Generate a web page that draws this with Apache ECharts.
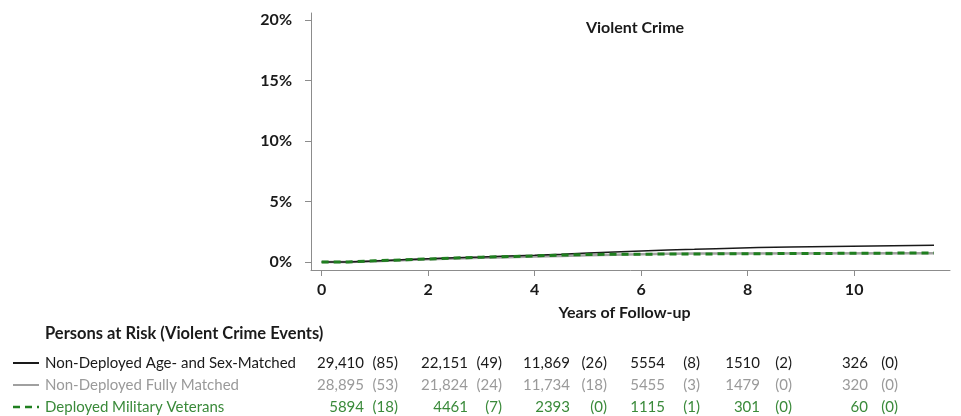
<!DOCTYPE html>
<html>
<head>
<meta charset="utf-8">
<script src="https://cdn.jsdelivr.net/npm/echarts@6/dist/echarts.min.js"></script>
<style>
  html, body { margin: 0; padding: 0; background: #fff; }
  #chart { width: 961px; height: 416px; }
</style>
</head>
<body>
<div id="chart"></div>
<script>
// follow-up time (years) and cumulative incidence (%)
const ageSexYears = [0, 0.5, 1, 1.5, 2, 2.5, 3, 3.5, 4, 4.5, 5, 5.5, 6, 6.5, 7, 7.4, 8.2, 8.8, 11.5];
const ageSexMatched = [0, 0.08, 0.18, 0.27, 0.35, 0.42, 0.5, 0.57, 0.65, 0.74, 0.83, 0.92, 1.0, 1.05, 1.1, 1.2, 1.25, 1.38, 1.38];
const fullyYears = [0, 0.5, 1, 1.5, 2, 2.5, 3, 3.5, 4, 4.5, 5, 5.5, 6, 6.5, 7, 11.5];
const fullyMatched = [0, 0.07, 0.15, 0.22, 0.3, 0.35, 0.4, 0.45, 0.5, 0.55, 0.6, 0.65, 0.68, 0.7, 0.72, 0.72];
const deployedYears = [0, 0.5, 1, 1.5, 2, 2.5, 3, 3.5, 4, 4.5, 5, 5.5, 6.1, 11.5];
const deployed = [0, 0.1, 0.18, 0.25, 0.33, 0.4, 0.45, 0.5, 0.58, 0.62, 0.65, 0.65, 0.75, 0.75];

const xTicks = [0, 2, 4, 6, 8, 10];
const yTicks = [0, 5, 10, 15, 20];

// persons at risk table
const groupNames = ["Non-Deployed Age- and Sex-Matched", "Non-Deployed Fully Matched", "Deployed Military Veterans"];
const atRisk = [
  ["29,410", "22,151", "11,869", "5554", "1510", "326"],
  ["28,895", "21,824", "11,734", "5455", "1479", "320"],
  ["5894", "4461", "2393", "1115", "301", "60"]
];
const events = [
  ["(85)", "(49)", "(26)", "(8)", "(2)", "(0)"],
  ["(53)", "(24)", "(18)", "(3)", "(0)", "(0)"],
  ["(18)", "(7)", "(0)", "(1)", "(0)", "(0)"]
];

const FONT = "Lato";
const colors = ["#1a1a1a", "#a0a0a0", "#1f7f1f"];
const textColors = ["#1a1a1a", "#9a9a9a", "#3a8a3a"];

const chart = echarts.init(document.getElementById("chart"));

const pair = (xs, ys) => xs.map((x, i) => [x, ys[i]]);

// table layout
const colEnd = [398, 502, 607, 700, 792, 898];
const countRight = [364, 468, 570, 665, 760, 868];
const rowY = [363, 385, 407];

const graphics = [
  {
    type: "text", left: 45, top: 325,
    style: { text: "Persons at Risk (Violent Crime Events)", font: "bold 16.5px " + FONT, fill: "#1a1a1a" }
  }
];
groupNames.forEach((name, r) => {
  graphics.push({
    type: "line",
    shape: { x1: 13, y1: rowY[r], x2: 39, y2: rowY[r] },
    style: { stroke: colors[r], lineWidth: r === 2 ? 2.5 : 2, lineDash: r === 2 ? [7, 5] : null }
  });
  graphics.push({
    type: "text", x: 45, y: rowY[r],
    style: { text: name, font: "15px " + FONT, fill: textColors[r], verticalAlign: "middle" }
  });
  atRisk[r].forEach((v, c) => {
    graphics.push({
      type: "text", x: countRight[c], y: rowY[r],
      style: { text: v, font: "15px " + FONT, fill: textColors[r], align: "right", verticalAlign: "middle" }
    });
    graphics.push({
      type: "text", x: colEnd[c], y: rowY[r],
      style: { text: events[r][c], font: "15px " + FONT, fill: textColors[r], align: "right", verticalAlign: "middle" }
    });
  });
});

const option = {
  animation: false,
  title: {
    text: "Violent Crime",
    left: 630, top: 15, textAlign: "center",
    textStyle: { fontFamily: FONT, fontWeight: "bold", fontSize: 16, color: "#1a1a1a" }
  },
  grid: { left: 311, right: 11, top: 13, bottom: 146 },
  xAxis: {
    type: "value",
    min: -0.2, max: 11.8,
    name: "Years of Follow-up",
    nameLocation: "middle",
    nameGap: 35,
    nameTextStyle: { fontFamily: FONT, fontWeight: "bold", fontSize: 16, color: "#1a1a1a", padding: [0, 12, 0, 0] },
    splitLine: { show: false },
    axisLine: { onZero: false, lineStyle: { color: "#8c8c8c", width: 1 } },
    axisTick: { show: true, length: 6, customValues: xTicks, lineStyle: { color: "#8c8c8c" } },
    axisLabel: { customValues: xTicks, margin: 12, fontFamily: FONT, fontWeight: "bold", fontSize: 16, color: "#1a1a1a" }
  },
  yAxis: {
    type: "value",
    min: -0.66, max: 20.6,
    splitLine: { show: false },
    axisLine: { show: true, onZero: false, lineStyle: { color: "#8c8c8c", width: 1 } },
    axisTick: { show: true, length: 6, customValues: yTicks, lineStyle: { color: "#8c8c8c" } },
    axisLabel: { customValues: yTicks, margin: 19, formatter: "{value}%", fontFamily: FONT, fontWeight: "bold", fontSize: 16, color: "#1a1a1a" }
  },
  series: [
    {
      name: groupNames[1], type: "line", step: "end", symbol: "none",
      data: pair(fullyYears, fullyMatched),
      lineStyle: { color: colors[1], width: 2.5 }
    },
    {
      name: groupNames[0], type: "line", step: "end", symbol: "none",
      data: pair(ageSexYears, ageSexMatched),
      lineStyle: { color: colors[0], width: 1.5 }
    },
    {
      name: groupNames[2], type: "line", step: "end", symbol: "none",
      data: pair(deployedYears, deployed),
      lineStyle: { color: colors[2], width: 3, type: [7, 5] }
    }
  ],
  graphic: graphics
};

chart.setOption(option);
</script>
</body>
</html>
